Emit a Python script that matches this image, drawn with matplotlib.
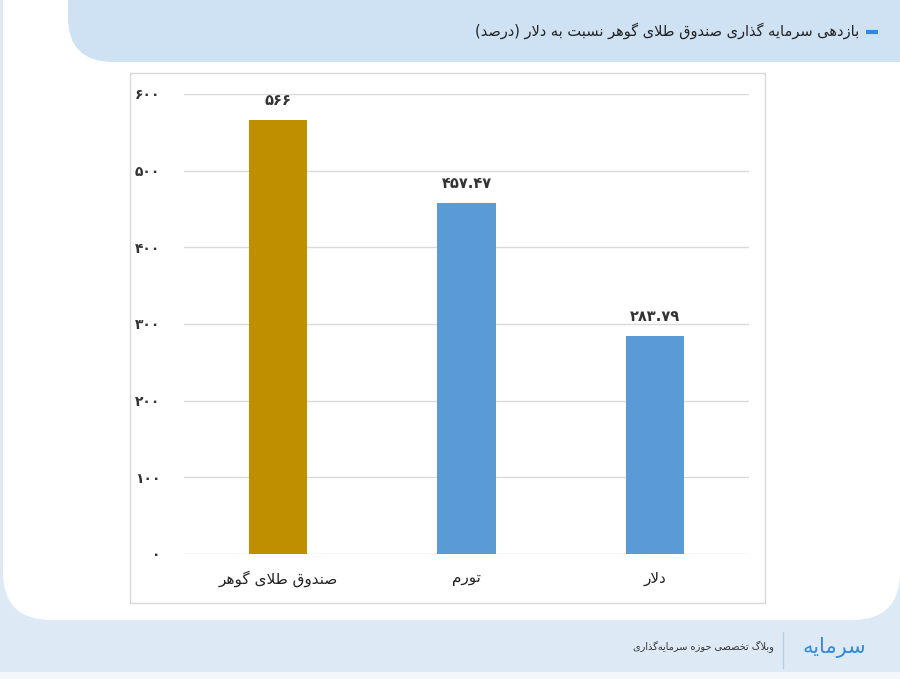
import matplotlib
matplotlib.use('Agg')
import matplotlib.pyplot as plt
from matplotlib.patches import FancyBboxPatch, Rectangle

# chart data
categories = ['صندوق طلای گوهر', 'تورم', 'دلار']
returns = [566, 457.47, 283.79]
value_labels = ['566', '457.47', '283.79']
bar_colors = ['#BF8F00', '#5B9BD5', '#5B9BD5']
yticks = [0, 100, 200, 300, 400, 500, 600]
title = 'بازدهی سرمایه گذاری صندوق طلای گوهر نسبت به دلار (درصد)'
footer = 'وبلاگ تخصصی حوزه سرمایه\u200cگذاری'
logo = 'سرمایه'

plt.rcParams['font.family'] = ['DejaVu Sans']

#---------------------------------------------------------------
# matplotlib has no arabic shaping, so join the letters by hand
# (isolated, final, initial, medial) presentation forms
#---------------------------------------------------------------
FORMS = {
    'ا': ('\uFE8D', '\uFE8E', None, None),
    'ب': ('\uFE8F', '\uFE90', '\uFE91', '\uFE92'),
    'ت': ('\uFE95', '\uFE96', '\uFE97', '\uFE98'),
    'ح': ('\uFEA1', '\uFEA2', '\uFEA3', '\uFEA4'),
    'خ': ('\uFEA5', '\uFEA6', '\uFEA7', '\uFEA8'),
    'د': ('\uFEA9', '\uFEAA', None, None),
    'ذ': ('\uFEAB', '\uFEAC', None, None),
    'ر': ('\uFEAD', '\uFEAE', None, None),
    'ز': ('\uFEAF', '\uFEB0', None, None),
    'س': ('\uFEB1', '\uFEB2', '\uFEB3', '\uFEB4'),
    'ص': ('\uFEB9', '\uFEBA', '\uFEBB', '\uFEBC'),
    'ط': ('\uFEC1', '\uFEC2', '\uFEC3', '\uFEC4'),
    'ق': ('\uFED5', '\uFED6', '\uFED7', '\uFED8'),
    'ل': ('\uFEDD', '\uFEDE', '\uFEDF', '\uFEE0'),
    'م': ('\uFEE1', '\uFEE2', '\uFEE3', '\uFEE4'),
    'ن': ('\uFEE5', '\uFEE6', '\uFEE7', '\uFEE8'),
    'ه': ('\uFEE9', '\uFEEA', '\uFEEB', '\uFEEC'),
    'و': ('\uFEED', '\uFEEE', None, None),
    'ی': ('\uFBFC', '\uFBFD', '\uFBFE', '\uFBFF'),
    'گ': ('\uFB92', '\uFB93', '\uFB94', '\uFB95'),
}


def shape(text):
    out = []
    i = 0
    n = len(text)
    while i < n:
        c = text[i]
        if c not in FORMS:
            if c != '\u200c':
                out.append(c)
            i += 1
            continue
        prev = text[i - 1] if i > 0 else None
        nxt = text[i + 1] if i + 1 < n else None
        jp = prev in FORMS and FORMS[prev][2] is not None
        if c == 'ل' and nxt == 'ا':
            out.append('\uFEFC' if jp else '\uFEFB')
            i += 2
            continue
        jn = FORMS[c][2] is not None and nxt in FORMS
        iso, fin, ini, med = FORMS[c]
        if jp and jn:
            out.append(med)
        elif jp:
            out.append(fin)
        elif jn:
            out.append(ini)
        else:
            out.append(iso)
        i += 1
    s = ''.join(out)[::-1]
    return s.translate(str.maketrans('()', ')('))


def fa(s):
    return str(s).translate(str.maketrans('0123456789', '۰۱۲۳۴۵۶۷۸۹'))


W, H = 900, 679
fig = plt.figure(figsize=(W / 100, H / 100), dpi=100)
fig.patch.set_facecolor('#ddeaf6')

# background decoration, in pixel coords
bg = fig.add_axes([0, 0, 1, 1])
bg.set_xlim(0, W)
bg.set_ylim(H, 0)
bg.axis('off')
bg.add_patch(Rectangle((0, 672), W, 10, fc='#f3f7fb', ec='none'))
bg.add_patch(FancyBboxPatch((3, -100), 900 - 3, 720, boxstyle='round,pad=0,rounding_size=48',
                            fc='white', ec='none'))
bg.add_patch(FancyBboxPatch((68, -100), 950, 162, boxstyle='round,pad=0,rounding_size=45',
                            fc='#cfe2f3', ec='none'))
bg.add_patch(Rectangle((130, 73), 635, 530, fc='white', ec='#d9d9d9', lw=1))
bg.text(859, 31, shape(title), ha='right', va='center', fontsize=10.5, color='#222222')
bg.plot([866, 878], [32, 32], color='#2f8ae0', lw=3, solid_capstyle='butt')
bg.text(774, 647, shape(footer), ha='right', va='center', fontsize=7, color='#333333')
bg.plot([783, 783], [632, 668], color='#b8cfe3', lw=1)
bg.text(834, 647, shape(logo), ha='center', va='center', fontsize=15, color='#2f8ae0')

# the bar chart itself
ax = fig.add_axes([184 / W, (H - 554) / H, (749 - 184) / W, (554 - 94) / H])
ax.set_facecolor('none')
x = range(len(categories))
bars = ax.bar(x, returns, width=0.31, color=bar_colors, zorder=3)
ax.set_xlim(-0.5, len(categories) - 0.5)
ax.set_ylim(0, 600)
ax.set_yticks(yticks)
ax.set_yticklabels([fa(t) for t in yticks], fontsize=10, color='#333333', fontweight='bold')
ax.set_xticks(list(x))
ax.set_xticklabels([shape(c) for c in categories], fontsize=11, color='#222222')
ax.tick_params(axis='both', length=0)
ax.tick_params(axis='y', pad=17)
ax.tick_params(axis='x', pad=12)
ax.grid(axis='y', color='#d9d9d9', lw=1, zorder=0)
for s in ax.spines.values():
    s.set_visible(False)
for b, lab in zip(bars, value_labels):
    ax.annotate(fa(lab), (b.get_x() + b.get_width() / 2, b.get_height()),
                xytext=(0, 9), textcoords='offset points', ha='center', va='bottom',
                fontsize=10.5, color='#333333', fontweight='bold')

plt.savefig('out.png', dpi=100)
